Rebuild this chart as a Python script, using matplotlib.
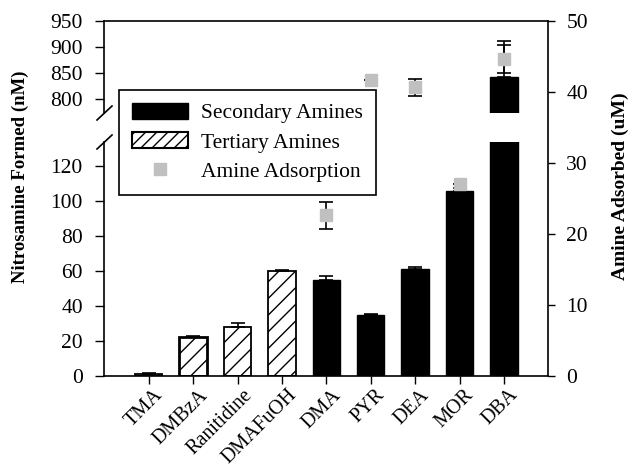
import matplotlib
matplotlib.use('Agg')
import matplotlib.pyplot as plt
import matplotlib.transforms as mtransforms
from matplotlib.patches import Patch
from matplotlib.lines import Line2D

plt.rcParams['font.family'] = ['Liberation Serif', 'DejaVu Serif']
plt.rcParams['font.size'] = 15
plt.rcParams['hatch.linewidth'] = 1.0

amines = ['TMA', 'DMBzA', 'Ranitidine', 'DMAFuOH', 'DMA', 'PYR', 'DEA', 'MOR', 'DBA']
amine_class = ['tertiary', 'tertiary', 'tertiary', 'tertiary',
               'secondary', 'secondary', 'secondary', 'secondary', 'secondary']
nitrosamine = [1.1, 22.5, 28.2, 60.3, 55.0, 34.9, 61.1, 105.9, 843]
nitrosamine_err = [0.4, 0.5, 2.3, 0.6, 2.4, 0.3, 1.4, 1.4, 69]

ads_amines = ['DMA', 'PYR', 'DEA', 'MOR', 'DBA']
adsorbed = [22.6, 41.6, 40.6, 27.0, 44.6]
adsorbed_err = [1.9, 0.0, 1.2, 0.0, 2.0]

W, H = 629, 470
fig = plt.figure(figsize=(W / 100, H / 100), dpi=100)

left = 104.3 / W
width = (548.3 - 104.3) / W
y0 = 1 - 376 / H
y_low_top = 1 - 141.7 / H
y_up_bot = 1 - 113.3 / H
y_top = 1 - 20.7 / H

ax_low = fig.add_axes([left, y0, width, y_low_top - y0])
ax_up = fig.add_axes([left, y_up_bot, width, y_top - y_up_bot])
ax_r = fig.add_axes([left, y0, width, y_top - y0])
ax_r.patch.set_visible(False)

x = list(range(len(amines)))

for ax in (ax_low, ax_up):
    for i in x:
        if amine_class[i] == 'secondary':
            ax.bar(i, nitrosamine[i], width=0.62, color='black', edgecolor='black', zorder=2)
        else:
            lw = 2.0 if amines[i] == 'DMBzA' else 1.3
            ax.bar(i, nitrosamine[i], width=0.62, color='white', edgecolor='black',
                   hatch='//', linewidth=lw, zorder=2)
    ax.errorbar(x, nitrosamine, yerr=[[0] * len(x), nitrosamine_err], fmt='none',
                ecolor='black', elinewidth=1.2, capsize=5, capthick=1.2, zorder=3)
    ax.set_xlim(-1, 9)
    ax.spines['right'].set_visible(False)
    ax.spines['top'].set_visible(False)
    ax.tick_params(axis='y', direction='out', length=6.5, width=1, labelsize=15.5, pad=9)

ax_low.set_ylim(0, 134)
ax_low.set_yticks([0, 20, 40, 60, 80, 100, 120])
ax_low.set_xticks(x)
ax_low.set_xticklabels(amines, rotation=45, ha='right', va='top', rotation_mode='anchor')
ax_low.tick_params(axis='x', direction='out', length=6, width=1, labelsize=14.5, pad=1)
shift = mtransforms.ScaledTranslation(5 / 100, 0, fig.dpi_scale_trans)
for lab in ax_low.get_xticklabels():
    lab.set_transform(lab.get_transform() + shift)

ax_up.set_ylim(773, 950)
ax_up.set_yticks([800, 850, 900, 950])
ax_up.spines['bottom'].set_visible(False)
ax_up.set_xticks([])

ads_x = [amines.index(a) for a in ads_amines]
ax_r.errorbar(ads_x, adsorbed, yerr=adsorbed_err, fmt='none', ecolor='black',
              elinewidth=1.2, capsize=5, capthick=1.2, zorder=3)
ax_r.plot(ads_x, adsorbed, 's', color='#c0c0c0', markersize=8, zorder=4)
ax_r.set_xlim(-1, 9)
ax_r.set_ylim(0, 50)
ax_r.set_xticks([])
ax_r.yaxis.tick_right()
ax_r.yaxis.set_label_position('right')
ax_r.spines['left'].set_visible(False)
ax_r.spines['bottom'].set_visible(False)
ax_r.tick_params(axis='y', direction='out', length=5, width=1, labelsize=15.5, pad=8)

for sp in list(ax_low.spines.values()) + list(ax_up.spines.values()) + list(ax_r.spines.values()):
    sp.set_linewidth(1.2)

# break marks on the left axis
for yc in (113.0, 142.0):
    fig.add_artist(Line2D([97 / W, 112 / W], [1 - (yc + 7) / H, 1 - (yc - 7) / H],
                          color='black', linewidth=1.2, transform=fig.transFigure))

fig.text(20 / W, 1 - 177 / H, 'Nitrosamine Formed (nM)', rotation=90, fontweight='bold',
         fontsize=13.5, ha='center', va='center')
fig.text(620.7 / W, 1 - 186 / H, 'Amine Adsorbed (uM)', rotation=90, fontweight='bold',
         fontsize=14, ha='center', va='center')

handles = [Patch(facecolor='black', edgecolor='black'),
           Patch(facecolor='white', edgecolor='black', hatch='///', linewidth=1.5),
           Line2D([], [], marker='s', color='#c0c0c0', linestyle='none', markersize=8)]
leg = ax_r.legend(handles, ['Secondary Amines', 'Tertiary Amines', 'Amine Adsorption'],
                  loc='upper left', bbox_to_anchor=(119 / W, 1 - 90 / H),
                  bbox_transform=fig.transFigure, borderaxespad=0, fancybox=False,
                  framealpha=1, edgecolor='black', handlelength=2.6, handleheight=0.75,
                  handletextpad=0.6, labelspacing=0.42, borderpad=0.6, fontsize=15.5)
leg.get_frame().set_linewidth(1.2)
leg.set_zorder(10)

fig.savefig('out.png', dpi=100)
